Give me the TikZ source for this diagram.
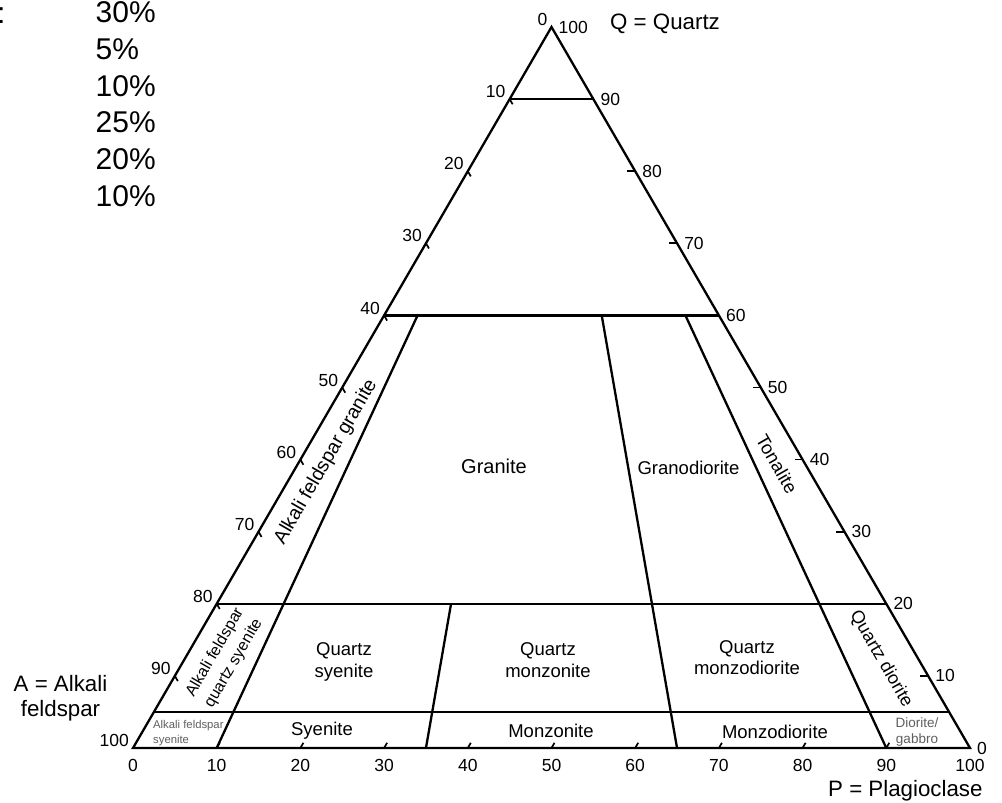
\documentclass[tikz,border=0pt]{standalone}
\usepackage{fontspec}
\setmainfont{Liberation Sans}
\definecolor{smallgray}{RGB}{95,95,95}
\begin{document}
\begin{tikzpicture}[x=1pt,y=-1pt,line join=miter,
  edge/.style={line width=2.3pt},
  tickmark/.style={line width=1.7pt},
  num/.style={font=\fontsize{17.5}{20}\selectfont, inner sep=0pt},
  region/.style={font=\fontsize{18.5}{21.5}\selectfont, align=center, inner sep=0pt},
  smalltxt/.style={text=smallgray, inner sep=0pt},
  big/.style={font=\fontsize{22.3}{25}\selectfont, inner sep=0pt}]
\useasboundingbox (0,0) rectangle (1002,803);
% corners
\coordinate (A) at (133,748);
\coordinate (P) at (970,748);
\coordinate (Q) at (551.5,27);
% horizontal boundaries
\coordinate (L90) at (barycentric cs:Q=0.9,A=0.1);
\coordinate (R90) at (barycentric cs:Q=0.9,P=0.1);
\coordinate (L60) at (barycentric cs:Q=0.6,A=0.4);
\coordinate (R60) at (barycentric cs:Q=0.6,P=0.4);
\coordinate (L20) at (barycentric cs:Q=0.2,A=0.8);
\coordinate (R20) at (barycentric cs:Q=0.2,P=0.8);
\coordinate (L05) at (barycentric cs:Q=0.05,A=0.95);
\coordinate (R05) at (barycentric cs:Q=0.05,P=0.95);
% ratio boundaries
\coordinate (T10) at (barycentric cs:Q=0.6,A=0.36,P=0.04);
\coordinate (B10) at (barycentric cs:A=0.9,P=0.1);
\coordinate (T65) at (barycentric cs:Q=0.6,A=0.14,P=0.26);
\coordinate (B65) at (barycentric cs:A=0.35,P=0.65);
\coordinate (T90) at (barycentric cs:Q=0.6,A=0.04,P=0.36);
\coordinate (B90) at (barycentric cs:A=0.1,P=0.9);
\coordinate (T35) at (barycentric cs:Q=0.2,A=0.52,P=0.28);
\coordinate (B35) at (barycentric cs:A=0.65,P=0.35);

\draw[edge] (A) -- (P) -- (Q) -- cycle;
\draw[edge] (L90) -- (R90);
\draw[edge] (L60) -- (R60);
\draw[edge] (L20) -- (R20);
\draw[edge] (L05) -- (R05);
\draw[edge] (T10) -- (B10);
\draw[edge] (T65) -- (B65);
\draw[edge] (T90) -- (B90);
\draw[edge] (T35) -- (B35);

% ticks and scale numbers
\foreach \k in {0,...,10} {
  \pgfmathsetmacro{\vv}{\k/10}
  \pgfmathsetmacro{\ww}{1-\k/10}
  \pgfmathtruncatemacro{\lab}{10*\k}
  \coordinate (le\k) at (barycentric cs:Q=\ww,A=\vv);
  \coordinate (re\k) at (barycentric cs:Q=\vv,P=\ww);
  \coordinate (be\k) at (barycentric cs:A=\ww,P=\vv);
  \node[num, anchor=south east, xshift=-4pt, yshift=1pt] (ll\k) at (le\k) {\lab};
  \node[num, anchor=west, xshift=7pt] (rl\k) at (re\k) {\lab};
  \node[num, anchor=north, yshift=-11pt] (bl\k) at (be\k) {\lab};
}
\foreach \k in {1,...,9} {
  \draw[tickmark] (le\k) -- ++(3,5.2);
  \draw[tickmark] (re\k) -- ++(-8,0);
  \draw[tickmark] (be\k) -- ++(3,-5.2);
}

% corner labels
\node[big, anchor=base west] (qlab) at (610,30) {Q = Quartz};
\node[big, align=center, anchor=north] (alab) at (60.5,675) {A = Alkali\\feldspar};
\node[big, anchor=base west] (plab) at (828,796) {P = Plagioclase};

% mode list (cut at left)
\node[anchor=base east, inner sep=0pt, font=\fontsize{30}{36}\selectfont] (colon) at (5.6,23.3) {:};
\node[anchor=north west, inner sep=0pt, align=left, font=\fontsize{30}{36.7}\selectfont] (pct) at (95.5,1.5)
  {30\%\\5\%\\10\%\\25\%\\20\%\\10\%};

% field names
\node[region, font=\fontsize{20}{23}\selectfont, anchor=base east] (granite) at (527,473) {Granite};
\node[region, anchor=base] (granodiorite) at (688.5,474) {Granodiorite};
\node[region, rotate=-60] (tonalite) at (777,464) {Tonalite};
\node[region, font=\fontsize{19.5}{22}\selectfont, rotate=60] (afgranite) at (326,462) {Alkali feldspar granite};
\node[region, font=\fontsize{16}{21.5}\selectfont, rotate=60] (afqsyenite) at (224.5,658) {Alkali feldspar\\quartz syenite};
\node[region, anchor=north] (qsyenite) at (344,642.5) {Quartz\\syenite};
\node[region, anchor=north] (qmonzonite) at (548,642.5) {Quartz\\monzonite};
\node[region, anchor=north] (qmonzodiorite) at (747,640) {Quartz\\monzodiorite};
\node[region, font=\fontsize{18}{21}\selectfont, rotate=-60] (qdiorite) at (881,659) {Quartz diorite};
\node[region, anchor=base] (syenite) at (322,735) {Syenite};
\node[region, anchor=base] (monzonite) at (551,737) {Monzonite};
\node[region, anchor=base] (monzodiorite) at (775,738) {Monzodiorite};
\node[smalltxt, align=left, anchor=north west, font=\fontsize{11.3}{15}\selectfont] (afsyenite) at (153,719.8) {Alkali feldspar\\syenite};
\node[smalltxt, align=center, anchor=north, font=\fontsize{13.5}{16}\selectfont] (dioritegabbro) at (917,718) {Diorite/\\gabbro};
\end{tikzpicture}
\end{document}
